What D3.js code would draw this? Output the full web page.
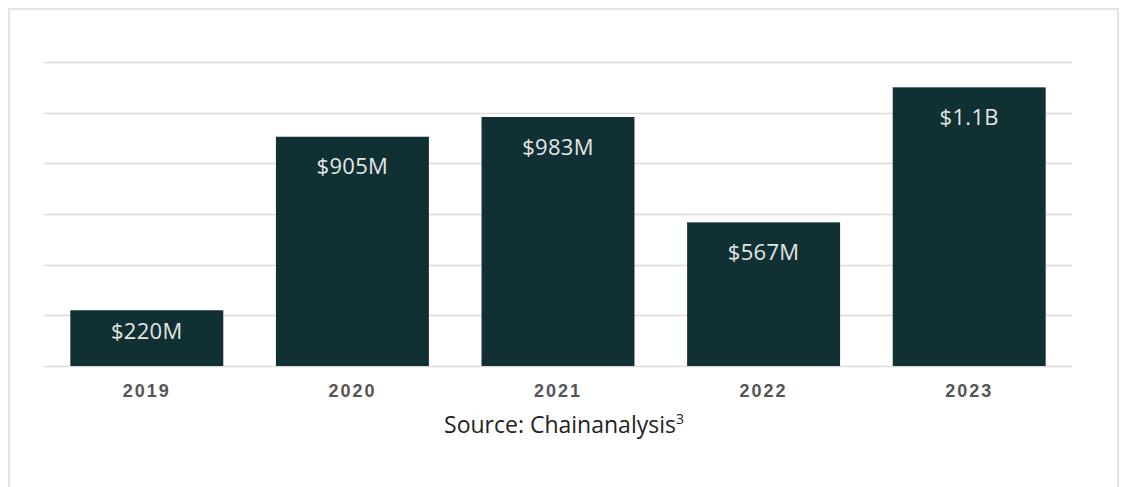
<!DOCTYPE html>
<html>
<head>
<meta charset="utf-8">
<script src="https://d3js.org/d3.v7.min.js"></script>
<style>
  body { margin: 0; background: #fff; }
</style>
</head>
<body>
<div id="chart"></div>
<script>
const width = 1121;
const height = 487;

// data
const years = ["2019", "2020", "2021", "2022", "2023"];
const values = [220, 905, 983, 567, 1100];   // millions USD
const valueLabels = ["$220M", "$905M", "$983M", "$567M", "$1.1B"];
const gridTicks = [0, 200, 400, 600, 800, 1000, 1200];

const svg = d3.select("#chart")
    .append("svg")
    .attr("width", width)
    .attr("height", height);

// outer frame (bottom edge is cut off)
svg.append("path")
    .attr("d", `M9,${height} V9 H1118 V${height}`)
    .attr("fill", "none")
    .attr("stroke", "#e4e4e4")
    .attr("stroke-width", 2);

const x = d3.scaleBand()
    .domain(years)
    .range([44, 1072])
    .paddingInner(0.256)
    .paddingOuter(0.128);

const y = d3.scaleLinear()
    .domain([0, 1200])
    .range([366, 62]);

// gridlines
svg.append("g")
    .selectAll("line")
    .data(gridTicks)
    .enter()
    .append("line")
    .attr("x1", 44)
    .attr("x2", 1072)
    .attr("y1", d => Math.round(y(d)) + 0.5)
    .attr("y2", d => Math.round(y(d)) + 0.5)
    .attr("stroke", "#dcdcdc")
    .attr("stroke-width", 1.5);

// bars
svg.append("g")
    .selectAll("rect")
    .data(values)
    .enter()
    .append("rect")
    .attr("x", (d, i) => x(years[i]))
    .attr("y", d => y(d))
    .attr("width", x.bandwidth())
    .attr("height", d => y(0) - y(d))
    .attr("fill", "#113033");

// value labels inside bars
svg.append("g")
    .selectAll("text")
    .data(values)
    .enter()
    .append("text")
    .attr("x", (d, i) => x(years[i]) + x.bandwidth() / 2)
    .attr("y", d => y(d) + Math.min(30, (y(0) - y(d)) * 0.37))
    .attr("dy", "0.35em")
    .attr("text-anchor", "middle")
    .attr("fill", "#e3e7e6")
    .style("font-family", "'Open Sans', sans-serif")
    .style("font-size", "22px")
    .style("letter-spacing", "0.3px")
    .text((d, i) => valueLabels[i]);

// year axis labels
const xAxis = d3.axisBottom(x).tickSize(0).tickPadding(18);
const gx = svg.append("g")
    .attr("transform", `translate(0,${y(0)})`)
    .call(xAxis);
gx.select(".domain").remove();
gx.selectAll("text")
    .attr("fill", "#555")
    .style("font-family", "'Liberation Sans', Arial, sans-serif")
    .style("font-weight", "bold")
    .style("font-size", "18px")
    .style("letter-spacing", "2px");

// source note
const src = svg.append("text")
    .attr("x", 564)
    .attr("y", 433)
    .attr("text-anchor", "middle")
    .attr("fill", "#222")
    .style("font-family", "'Open Sans', sans-serif")
    .style("font-size", "23px");
src.append("tspan").text("Source: Chainanalysis");
src.append("tspan")
    .attr("dy", -9)
    .style("font-size", "14px")
    .text("3");
</script>
</body>
</html>
